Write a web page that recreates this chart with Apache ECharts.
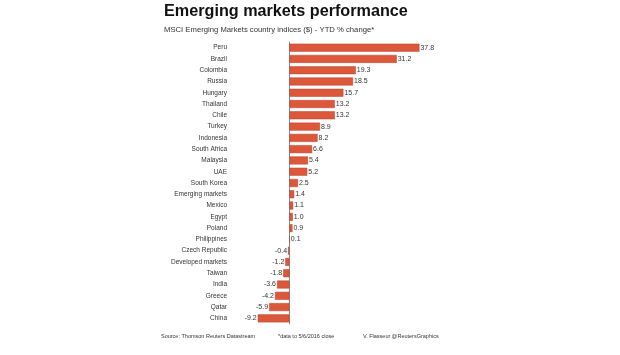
<!DOCTYPE html>
<html><head><meta charset="utf-8">
<script src="https://cdn.jsdelivr.net/npm/echarts@6/dist/echarts.min.js"></script>
<style>html,body{margin:0;padding:0;background:#fff}#c{width:620px;height:355px}</style>
</head><body><div id="c"></div>
<script>
const categories = ["Peru","Brazil","Colombia","Russia","Hungary","Thailand","Chile","Turkey","Indonesia","South Africa","Malaysia","UAE","South Korea","Emerging markets","Mexico","Egypt","Poland","Philippines","Czech Republic","Developed markets","Taiwan","India","Greece","Qatar","China"];
const values = [37.8,31.2,19.3,18.5,15.7,13.2,13.2,8.9,8.2,6.6,5.4,5.2,2.5,1.4,1.1,1.0,0.9,0.1,-0.4,-1.2,-1.8,-3.6,-4.2,-5.9,-9.2];
const titleText = "Emerging markets performance";
const subtitleText = "MSCI Emerging Markets country indices ($) - YTD % change*";
const footerTexts = ["Source: Thomson Reuters Datastream","*data to 5/6/2016 close","V. Flasseur @ReutersGraphics"];

const chart = echarts.init(document.getElementById('c'));
const font = '"Liberation Sans", Arial, sans-serif';
const small = (t, x, y, s) => ({text: t, left: x, top: y, padding: 0,
  textStyle: {fontFamily: font, fontSize: s, fontWeight: 'normal', color: '#333'}});
chart.setOption({
  animation: false,
  title: [
    {text: titleText, left: 164, top: 4, padding: 0, textStyle: {fontFamily: font, fontSize: 16.2, fontWeight: 'bold', color: '#111'}},
    small(subtitleText, 164, 26, 7.7),
    small(footerTexts[0], 161, 333, 5.5),
    small(footerTexts[1], 278, 333, 5.5),
    small(footerTexts[2], 363, 333, 5.5)
  ],
  grid: {left: 255, width: 172, top: 42, height: 282, containLabel: false},
  xAxis: {type: 'value', min: -10, max: 40, show: false, splitLine: {show: false}},
  yAxis: {
    type: 'category', data: categories, inverse: true,
    axisLine: {show: true, onZero: true, lineStyle: {color: '#888', width: 1}},
    axisTick: {show: false},
    axisLabel: {margin: 28, fontFamily: font, fontSize: 6.5, color: '#333'}
  },
  series: [{
    type: 'bar', barWidth: 8,
    data: values.map(v => ({value: v, label: {position: v < 0 ? 'left' : 'right'}})),
    itemStyle: {color: '#dc583b', borderColor: '#b84430', borderWidth: 0.5},
    label: {show: true, distance: 1, fontFamily: font, fontSize: 7, color: '#333',
      formatter: p => p.value.toFixed(1)}
  }]
});
</script></body></html>
